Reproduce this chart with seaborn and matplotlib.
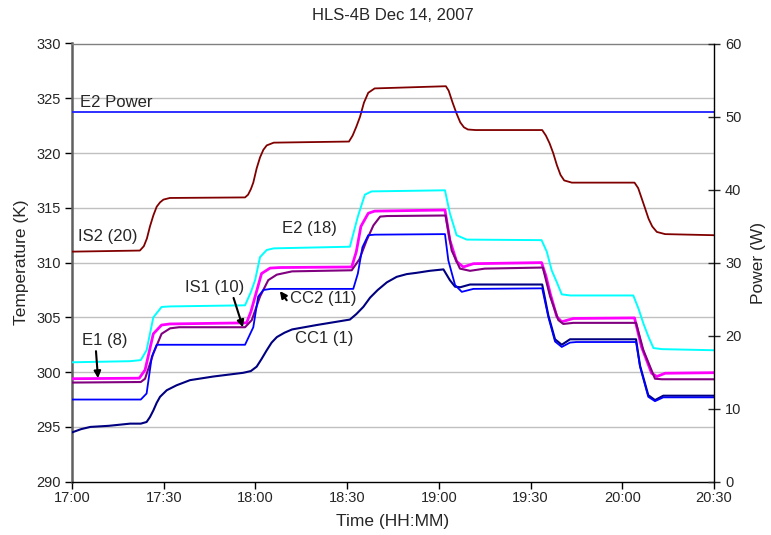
import matplotlib
matplotlib.use("Agg")
import matplotlib.pyplot as plt
import seaborn as sns
import pandas as pd

# ---- data: minutes after 17:00 and temperatures (K) ----
is2_t = [0, 22.2, 23.5, 24.5, 25.5, 26.6, 27.7, 28.8, 29.9, 32, 56.6, 57.6, 58.5, 59.3, 60.4, 61.5,
         62.6, 63.7, 66, 90.6, 91.8, 93, 94.2, 95.5, 96.9, 99, 122.3, 123.2, 124.5, 125.8, 127,
         128.2, 129.5, 132, 153.8, 155, 156.2, 157.4, 158.6, 159.8, 161, 163.5, 184, 185.2, 186.3,
         187.4, 188.6, 189.8, 191.3, 194, 210]
is2_k = [311.0, 311.1, 311.5, 312.2, 313.3, 314.3, 315.1, 315.5, 315.75, 315.9, 315.95, 316.2, 316.7,
         317.3, 318.6, 319.6, 320.3, 320.7, 320.95, 321.05, 321.6, 322.4, 323.3, 324.6, 325.5, 325.9,
         326.1, 325.7, 324.6, 323.6, 322.8, 322.35, 322.15, 322.1, 322.1, 321.6, 320.9, 320.0, 318.9,
         318.0, 317.5, 317.3, 317.3, 316.8, 315.9, 315.0, 314.0, 313.3, 312.8, 312.6, 312.5]

e2_t = [0, 19, 22.5, 24.4, 26.6, 29.3, 32, 56.6, 58.5, 59.9, 61.5, 63.7, 66, 90.9, 93.5, 95.8, 98,
        122, 123.6, 125.8, 129.1, 153.6, 155.3, 156.9, 158.6, 160.2, 163, 183.6, 185.3, 186.9,
        188.6, 190.2, 193, 210]
e2_k = [300.9, 301.0, 301.1, 302.0, 305.0, 305.95, 306.0, 306.1, 307.3, 308.4, 310.5, 311.15, 311.3,
        311.45, 314.2, 316.2, 316.5, 316.6, 314.5, 312.5, 312.1, 312.05, 311.0, 309.3, 308.2, 307.1,
        307.0, 307.0, 305.8, 304.45, 303.2, 302.2, 302.1, 302.0]

e1_t = [0, 22, 23.9, 26.6, 29.3, 32, 57.1, 58.5, 59.9, 62, 64.8, 68, 91.5, 93, 94.5, 96.9, 99,
        122, 123.6, 125.8, 128, 131.3, 153.6, 155, 156.4, 158.6, 160.2, 164, 184, 186.3, 189.6,
        191.3, 194, 210]
e1_k = [299.4, 299.45, 300.2, 303.5, 304.3, 304.4, 304.5, 305.5, 306.9, 309.0, 309.5, 309.55, 309.6,
        311.0, 313.3, 314.5, 314.7, 314.8, 312.05, 310.1, 309.6, 309.9, 310.0, 308.8, 307.2, 305.05,
        304.6, 304.9, 304.95, 302.3, 299.9, 299.6, 299.9, 299.95]

is1_t = [0, 22.5, 23.9, 26.6, 29.3, 32.1, 35, 56.6, 58.8, 61.5, 64.2, 67, 72, 91.5, 94, 96.4, 98.6,
         100.8, 103, 122.2, 124.2, 126.9, 130.2, 135, 154, 156.4, 159.1, 160.7, 164, 184.5, 186.9,
         190.7, 193, 210]
is1_k = [299.05, 299.1, 299.4, 301.7, 303.5, 304.0, 304.1, 304.1, 304.75, 306.9, 308.4, 308.9, 309.2,
         309.3, 310.3, 312.05, 313.4, 314.2, 314.25, 314.3, 311.1, 309.45, 309.25, 309.45, 309.55,
         306.9, 304.75, 304.4, 304.5, 304.5, 302.0, 299.4, 299.35, 299.35]

cc2_t = [0, 22.5, 24.4, 26.1, 27.7, 30, 56.6, 59.3, 60.9, 62.6, 65, 92, 93.5, 95, 96.9, 99, 122,
         123.1, 125.3, 127.5, 131.3, 153.8, 155.8, 158, 160.2, 162.9, 165, 184.5, 185.8, 188.5,
         190.7, 193.4, 196, 210]
cc2_k = [297.5, 297.5, 298.05, 301.4, 302.5, 302.5, 302.5, 304.1, 306.9, 307.5, 307.6, 307.6, 309.0,
         311.4, 312.5, 312.55, 312.6, 310.2, 307.95, 307.33, 307.6, 307.65, 305.05, 302.8, 302.3,
         302.7, 302.75, 302.75, 300.5, 297.75, 297.35, 297.7, 297.7, 297.7]

cc1_t = [0, 3, 6, 12, 19, 22.5, 24.4, 25.5, 26.6, 27.7, 28.8, 31, 34.2, 38.6, 46.2, 56, 58.5, 60.4,
         62, 63.7, 65.3, 67, 69.5, 72, 80, 90.9, 93, 95.3, 97.5, 100, 103, 106.2, 109.5, 112.8,
         117, 121.5, 123.6, 125.3, 127, 130.2, 153.8, 155.8, 158, 160.2, 162.9, 184.5, 185.8, 188.5,
         190.7, 193.4, 210]
cc1_k = [294.5, 294.8, 295.0, 295.1, 295.3, 295.3, 295.45, 295.9, 296.5, 297.2, 297.75, 298.35, 298.8,
         299.27, 299.6, 299.94, 300.1, 300.5, 301.2, 302.0, 302.7, 303.2, 303.6, 303.9, 304.3, 304.8,
         305.3, 305.96, 306.8, 307.5, 308.2, 308.7, 308.95, 309.07, 309.25, 309.38, 308.4, 307.8,
         307.75, 308.0, 308.0, 305.2, 303.0, 302.5, 303.0, 303.0, 300.6, 297.9, 297.45, 297.85,
         297.85]

# heater power (W), right axis
power_t = [0, 210]
power_w = [50.6, 50.6]

time_ticks = [0, 30, 60, 90, 120, 150, 180, 210]
time_labels = ["17:00", "17:30", "18:00", "18:30", "19:00", "19:30", "20:00", "20:30"]
temp_ticks = [290, 295, 300, 305, 310, 315, 320, 325, 330]
power_ticks = [0, 10, 20, 30, 40, 50, 60]

series = [
    ("IS2 (20)", is2_t, is2_k, "#800000", 1.3),
    ("E2 (18)", e2_t, e2_k, "#00FFFF", 1.4),
    ("E1 (8)", e1_t, e1_k, "#FF00FF", 2.0),
    ("IS1 (10)", is1_t, is1_k, "#800080", 1.5),
    ("CC1 (1)", cc1_t, cc1_k, "#000080", 1.5),
    ("CC2 (11)", cc2_t, cc2_k, "#0000FF", 1.3),
]

sns.set_style("white")
plt.rcParams["font.family"] = ["Liberation Sans", "DejaVu Sans"]

fig = plt.figure(figsize=(7.71, 5.35), dpi=100)
ax = fig.add_axes([72 / 771, 1 - 481.7 / 535, (714 - 72) / 771, (481.7 - 43.5) / 535])

for name, t, k, color, lw in series:
    df = pd.DataFrame({"minutes": t, "temp": k})
    sns.lineplot(data=df, x="minutes", y="temp", color=color, linewidth=lw,
                 estimator=None, sort=False, ax=ax, zorder=3)

ax.set_xlim(0, 210)
ax.set_ylim(290, 330)
ax.set_xticks(time_ticks)
ax.set_xticklabels(time_labels)
ax.set_yticks(temp_ticks)
ax.set_xlabel("Time (HH:MM)", fontsize=12.5, labelpad=6)
ax.set_ylabel("Temperature (K)", fontsize=12.5, labelpad=5)
for y in temp_ticks[1:-1]:
    ax.axhline(y, color="#C0C0C0", linewidth=1.0, zorder=1)
ax.tick_params(axis="both", labelsize=10.5, direction="out", length=5, width=1, color="black",
               bottom=True, left=True, top=False, right=False)
ax.tick_params(axis="x", pad=2)
ax.tick_params(axis="y", pad=3)
ax.spines["left"].set_color("#606060")
ax.spines["left"].set_linewidth(1.8)
ax.spines["top"].set_color("#808080")
ax.spines["top"].set_linewidth(1.0)
ax.spines["bottom"].set_color("black")
ax.spines["bottom"].set_linewidth(1.0)
ax.spines["right"].set_visible(False)

ax2 = ax.twinx()
pdf = pd.DataFrame({"minutes": power_t, "power": power_w})
sns.lineplot(data=pdf, x="minutes", y="power", color="#1F1FFF", linewidth=1.3,
             estimator=None, ax=ax2)
ax2.set_ylim(0, 60)
ax2.set_xlim(0, 210)
ax2.set_yticks(power_ticks)
ax2.set_ylabel("Power (W)", fontsize=12.5, labelpad=7)
ax2.tick_params(axis="y", labelsize=10.5, direction="inout", length=8, width=1, pad=4,
                right=True, left=False)
ax2.tick_params(axis="x", top=False, bottom=False, labeltop=False, labelbottom=False)
ax2.set_xlabel("")
for s in ["left", "top", "bottom"]:
    ax2.spines[s].set_visible(False)
ax2.spines["right"].set_color("black")
ax2.spines["right"].set_linewidth(1.0)

fig.text(393 / 771, 1 - 15 / 535, "HLS-4B Dec 14, 2007", ha="center", va="center", fontsize=12)

# series labels
label_fs = 12
ax.text(2.6, 324.57, "E2 Power", ha="left", va="center", fontsize=label_fs)
ax.text(2.0, 312.42, "IS2 (20)", ha="left", va="center", fontsize=label_fs)
ax.text(68.7, 313.15, "E2 (18)", ha="left", va="center", fontsize=label_fs)
ax.text(73.0, 303.08, "CC1 (1)", ha="left", va="center", fontsize=label_fs)

arrow = dict(arrowstyle="-|>", color="black", lw=1.5, mutation_scale=10, shrinkA=0, shrinkB=0)
ax.annotate("E1 (8)", xy=(8.5, 299.45), xytext=(3.3, 302.9), ha="left", va="center",
            fontsize=label_fs, arrowprops=dict(arrow, relpos=(0.3, 0.0)), zorder=5)
ax.annotate("IS1 (10)", xy=(55.9, 304.1), xytext=(37.0, 307.76), ha="left", va="center",
            fontsize=label_fs, arrowprops=dict(arrow, relpos=(0.8, 0.0)), zorder=5)
ax.annotate("CC2 (11)", xy=(68.0, 307.4), xytext=(71.3, 306.76), ha="left", va="center",
            fontsize=label_fs, arrowprops=dict(arrow, relpos=(-0.04, 0.3)), zorder=5)

fig.savefig("out.png", dpi=100)
